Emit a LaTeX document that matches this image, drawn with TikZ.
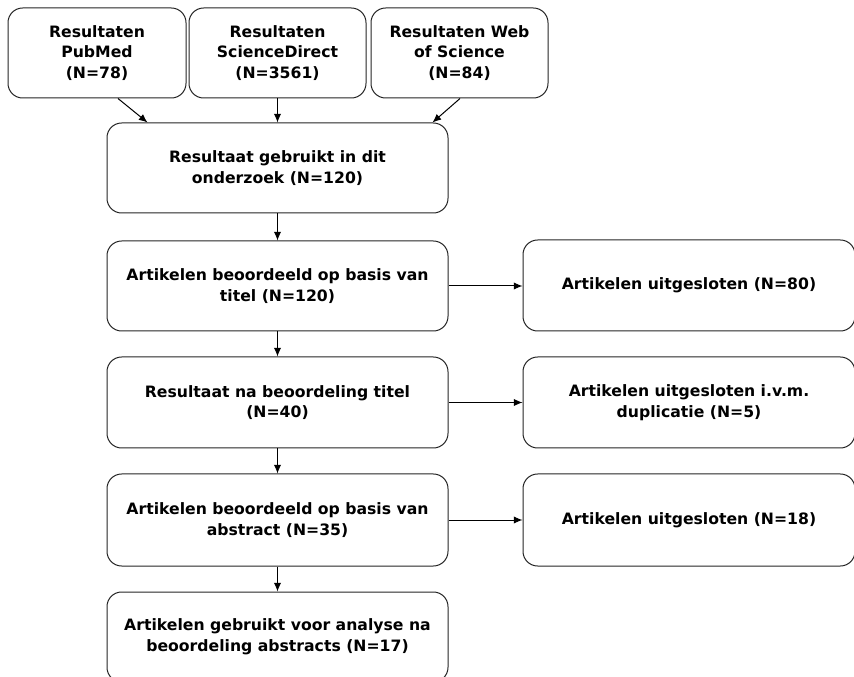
\documentclass[tikz,border=0pt]{standalone}
\usepackage{fontspec}
\setmainfont{DejaVu Sans}
\usetikzlibrary{arrows.meta,calc}
\begin{document}
\begin{tikzpicture}[x=0.75pt,y=-0.75pt,
  box/.style={draw=black!85,line width=0.75pt,rounded corners=11pt,fill=white,
    align=center,inner sep=0pt,
    font=\bfseries\fontsize{11.75pt}{15.5pt}\selectfont},
  topbox/.style={box,minimum width=177*0.75pt,minimum height=90*0.75pt},
  mainbox/.style={box,minimum width=341*0.75pt,minimum height=90*0.75pt},
  sidebox/.style={box,minimum width=332*0.75pt,minimum height=91*0.75pt},
  conn/.style={draw=black,line width=0.75pt,-{Latex[length=6.5pt,width=5.5pt]}}]
\clip (0,0) rectangle (854,677);
\fill[white] (0,0) rectangle (854,677);

% source databases
\node[topbox,minimum width=178*0.75pt] (pubmed) at (97,53) {Resultaten\\PubMed\\(N=78)};
\node[topbox] (sd) at (277.5,53) {Resultaten\\ScienceDirect\\(N=3561)};
\node[topbox] (wos) at (459.5,53) {Resultaten Web\\of Science\\(N=84)};

% main flow
\node[mainbox] (used) at (277.5,168) {Resultaat gebruikt in dit\\onderzoek (N=120)};
\node[mainbox] (title) at (277.5,286) {Artikelen beoordeeld op basis van\\titel (N=120)};
\node[mainbox,minimum height=91*0.75pt] (aftertitle) at (277.5,402.5) {Resultaat na beoordeling titel\\(N=40)};
\node[mainbox,minimum height=92*0.75pt] (abstract) at (277.5,520) {Artikelen beoordeeld op basis van\\abstract (N=35)};
\node[mainbox] (final) at (277.5,637) {Artikelen gebruikt voor analyse na\\beoordeling abstracts (N=17)};

% exclusions
\node[sidebox] (ex1) at (689,285.5) {Artikelen uitgesloten (N=80)};
\node[sidebox] (ex2) at (689,402.5) {Artikelen uitgesloten i.v.m.\\duplicatie (N=5)};
\node[sidebox,minimum height=92*0.75pt] (ex3) at (689,520) {Artikelen uitgesloten (N=18)};

% connectors
\draw[conn] ($(pubmed.south)+(21,0)$) -- ($(used.north)+(-130,0)$);
\draw[conn] (sd.south) -- (used.north);
\draw[conn] ($(wos.south)+(0.5,0)$) -- ($(used.north)+(155,0)$);
\draw[conn] (used) -- (title);
\draw[conn] (title) -- (aftertitle);
\draw[conn] (aftertitle) -- (abstract);
\draw[conn] (abstract) -- (final);
\draw[conn] (title.east) -- (title.east -| ex1.west);
\draw[conn] (aftertitle.east) -- (ex2.west);
\draw[conn] (abstract.east) -- (ex3.west);
\end{tikzpicture}
\end{document}
